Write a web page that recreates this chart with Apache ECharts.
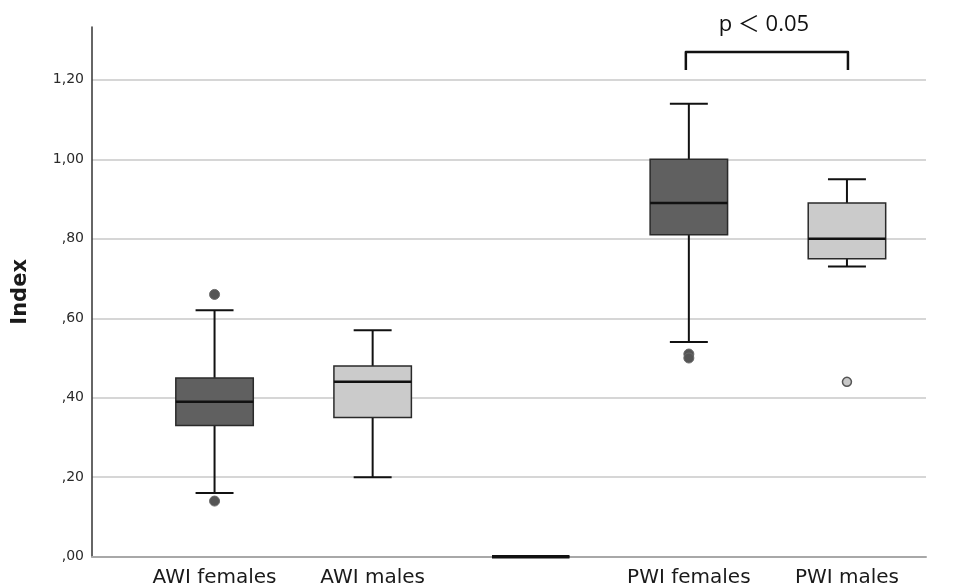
<!DOCTYPE html>
<html>
<head>
<meta charset="utf-8">
<script src="https://cdn.jsdelivr.net/npm/echarts@6/dist/echarts.min.js"></script>
<style>
html,body{margin:0;padding:0;background:#fff;}
#chart{width:970px;height:588px;}
</style>
</head>
<body>
<div id="chart"></div>
<script>
// ---- data ----
var categories = ['AWI females', 'AWI males', '', 'PWI females', 'PWI males'];
var lowerWhisker = [0.16, 0.20, 0, 0.54, 0.73];
var q1 = [0.33, 0.35, 0, 0.81, 0.75];
var median = [0.39, 0.44, 0, 0.89, 0.80];
var q3 = [0.45, 0.48, 0, 1.00, 0.89];
var upperWhisker = [0.62, 0.57, 0, 1.14, 0.95];
var boxShade = ['dark', 'light', 'dark', 'dark', 'light'];
var darkOutliers = [[0, 0.66], [0, 0.14], [3, 0.51], [3, 0.50]];
var lightOutliers = [[4, 0.44]];
var bracketPair = [[3, 4, 1.27, 1.225]];
var bracketLabel = 'p \uFF1C 0.05';
var yTickValues = [0, 0.2, 0.4, 0.6, 0.8, 1.0, 1.2];
var yMax = 1.333;

var boxData = categories.map(function (c, i) {
  return [i, lowerWhisker[i], q1[i], median[i], q3[i], upperWhisker[i], boxShade[i] === 'dark' ? 1 : 0];
});

function fmtTick(v) {
  var s = v.toFixed(2).replace('.', ',');
  if (s.charAt(0) === '0') s = s.substring(1);
  return s;
}

var chart = echarts.init(document.getElementById('chart'));
var gridTop = 27, gridBottom = 31.3;
var option = {
  backgroundColor: '#ffffff',
  animation: false,
  grid: [
    {left: 92, right: 44, top: gridTop, bottom: gridBottom},
    {left: 135.5, right: 44, top: gridTop, bottom: gridBottom}
  ],
  xAxis: [
    {gridIndex: 0, type: 'value', min: 0, max: 1,
      axisLine: {show: true, lineStyle: {color: '#a8a8a8', width: 2}},
      axisTick: {show: false}, axisLabel: {show: false}, splitLine: {show: false}},
    {gridIndex: 1, type: 'category', data: categories, boundaryGap: true,
      axisLine: {show: false}, axisTick: {show: false}, splitLine: {show: false},
      axisLabel: {interval: 0, color: '#1a1a1a', fontFamily: 'DejaVu Sans', fontSize: 20, margin: 11}}
  ],
  yAxis: [
    {gridIndex: 0, type: 'value', min: 0, max: yMax, interval: 0.2,
      name: 'Index', nameLocation: 'middle', nameGap: 61, nameRotate: 90,
      nameTextStyle: {fontFamily: 'DejaVu Sans', fontWeight: 'bold', fontSize: 21, color: '#1a1a1a'},
      axisLine: {show: true, lineStyle: {color: '#333', width: 1.5}},
      axisTick: {show: false},
      axisLabel: {color: '#2a2a2a', fontFamily: 'DejaVu Sans', fontSize: 14, margin: 8, showMaxLabel: false,
        formatter: function (v) {
          for (var k = 0; k < yTickValues.length; k++) {
            if (Math.abs(v - yTickValues[k]) < 1e-6) return fmtTick(yTickValues[k]);
          }
          return '';
        }},
      splitLine: {show: true, showMinLine: false, showMaxLine: false, lineStyle: {color: '#c8c8c8', width: 1.5}}},
    {gridIndex: 1, type: 'value', min: 0, max: yMax, interval: 0.2, show: false, splitLine: {show: false}}
  ],
  series: [
    {
      type: 'custom', xAxisIndex: 1, yAxisIndex: 1, data: boxData, z: 3, clip: false,
      renderItem: function (params, api) {
        var x = api.value(0);
        var bw = api.size([1, 0])[0] * 0.49;
        var cw = bw * 0.49;
        var pLo = api.coord([x, api.value(1)]);
        var pQ1 = api.coord([x, api.value(2)]);
        var pMed = api.coord([x, api.value(3)]);
        var pQ3 = api.coord([x, api.value(4)]);
        var pHi = api.coord([x, api.value(5)]);
        var cx = pMed[0];
        var fill = api.value(6) === 1 ? '#606060' : '#cbcbcb';
        var ls = {stroke: '#111', lineWidth: 2};
        var flat = Math.abs(pQ1[1] - pQ3[1]) < 0.5;
        return {
          type: 'group',
          children: [
            {type: 'line', shape: {x1: cx, y1: pLo[1], x2: cx, y2: pQ1[1]}, style: ls},
            {type: 'line', shape: {x1: cx, y1: pQ3[1], x2: cx, y2: pHi[1]}, style: ls},
            {type: 'line', shape: {x1: cx - cw / 2, y1: pLo[1], x2: cx + cw / 2, y2: pLo[1]}, style: ls, invisible: flat},
            {type: 'line', shape: {x1: cx - cw / 2, y1: pHi[1], x2: cx + cw / 2, y2: pHi[1]}, style: ls, invisible: flat},
            {type: 'rect', shape: {x: cx - bw / 2, y: pQ3[1], width: bw, height: pQ1[1] - pQ3[1]},
              style: {fill: fill, stroke: '#2a2a2a', lineWidth: 1.5}},
            {type: 'line', shape: {x1: cx - bw / 2, y1: pMed[1], x2: cx + bw / 2, y2: pMed[1]},
              style: {stroke: '#111', lineWidth: flat ? 3.5 : 2.5}}
          ]
        };
      }
    },
    {
      type: 'scatter', xAxisIndex: 1, yAxisIndex: 1, data: darkOutliers, symbol: 'circle', symbolSize: 10, z: 4,
      itemStyle: {color: '#555555', borderColor: '#6a6a6a', borderWidth: 1, opacity: 1}
    },
    {
      type: 'scatter', xAxisIndex: 1, yAxisIndex: 1, data: lightOutliers, symbol: 'circle', symbolSize: 9, z: 4,
      itemStyle: {color: '#c8c8c8', borderColor: '#555555', borderWidth: 1.5, opacity: 1}
    },
    {
      type: 'custom', xAxisIndex: 1, yAxisIndex: 1, data: bracketPair, z: 5, clip: false,
      renderItem: function (params, api) {
        var pA = api.coord([api.value(0), api.value(2)]);
        var pB = api.coord([api.value(1), api.value(2)]);
        var pEnd = api.coord([api.value(0), api.value(3)]);
        var ax = pA[0] - 3, bx = pB[0] + 1;
        return {
          type: 'group',
          children: [
            {type: 'polyline', shape: {points: [[ax, pEnd[1]], [ax, pA[1]], [bx, pA[1]], [bx, pEnd[1]]]},
              style: {stroke: '#111', lineWidth: 2.5, fill: null, lineJoin: 'round'}},
            {type: 'text', x: (ax + bx) / 2 - 3, y: pA[1] - 27,
              style: {text: bracketLabel, fontFamily: '"Open Sans", "Noto Sans CJK SC"', fontSize: 22,
                fill: '#111', align: 'center', verticalAlign: 'middle'}}
          ]
        };
      }
    }
  ]
};
chart.setOption(option);
</script>
</body>
</html>
